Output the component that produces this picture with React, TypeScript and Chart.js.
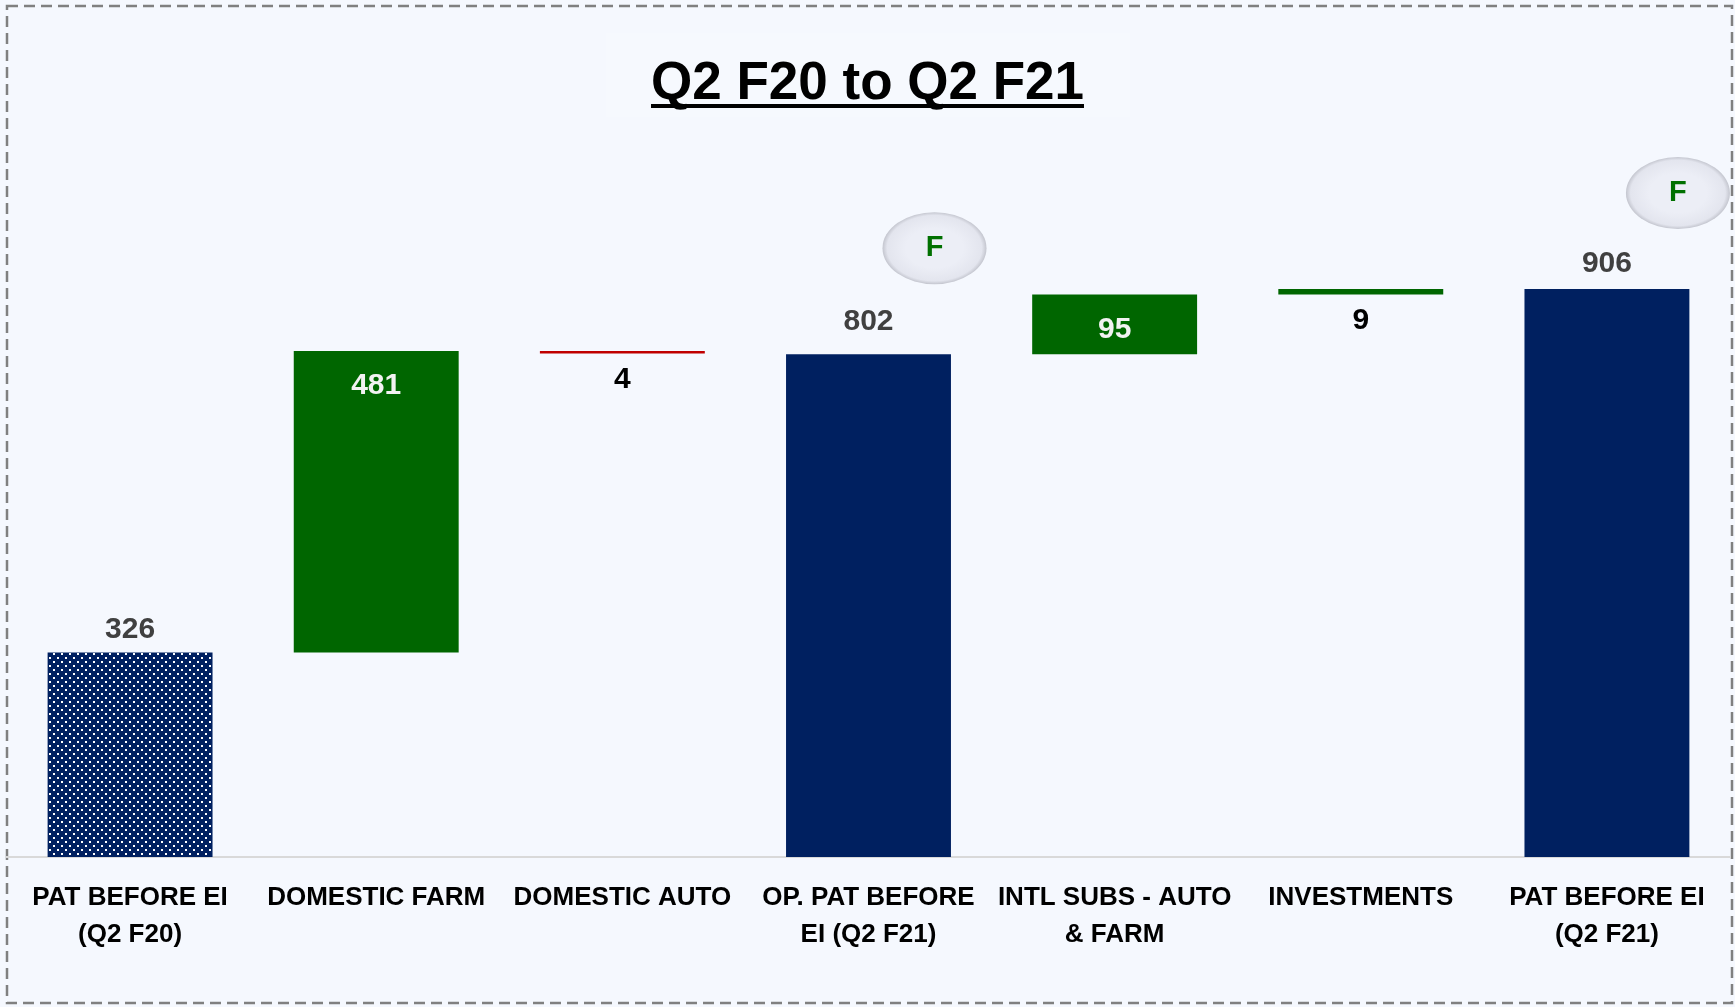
import React, { useEffect, useRef } from "react";
import { Chart, registerables } from "chart.js";

Chart.register(...registerables);

const chartTitle = "Q2 F20 to Q2 F21";
const categories: string[][] = [
  ["PAT BEFORE EI", "(Q2 F20)"],
  ["DOMESTIC FARM"],
  ["DOMESTIC AUTO"],
  ["OP. PAT BEFORE", "EI (Q2 F21)"],
  ["INTL SUBS - AUTO", "& FARM"],
  ["INVESTMENTS"],
  ["PAT BEFORE EI", "(Q2 F21)"],
];
const barValues = [326, 481, -4, 802, 95, 9, 906];
const barKinds = ["total", "up", "down", "total", "up", "up", "total"];
const flagLabels = ["", "", "", "F", "", "", "F"];
const yMin = 0;
const yMax = 1000;

const NAVY = "#002060";
const GREEN = "#006600";
const RED = "#C00000";
const BG = "#f5f8fe";
const FONT = "'Liberation Sans', Arial, sans-serif";

function buildRanges(): [number, number][] {
  let run = 0;
  return barValues.map((v, i) => {
    if (barKinds[i] === "total") {
      run = v;
      return [0, v] as [number, number];
    }
    const s = run;
    run += v;
    return [s, run] as [number, number];
  });
}

function makeDotPattern(): CanvasPattern | string {
  const c = document.createElement("canvas");
  c.width = 8;
  c.height = 8;
  const g = c.getContext("2d");
  if (!g) return NAVY;
  g.fillStyle = NAVY;
  g.fillRect(0, 0, 8, 8);
  g.fillStyle = "#ffffff";
  g.fillRect(1, 1, 2, 2);
  g.fillRect(5, 5, 2, 2);
  const p = g.createPattern(c, "repeat");
  return p || NAVY;
}

const decorPlugin = {
  id: "decor",
  beforeDraw(chart: any) {
    const { ctx, width, height } = chart;
    ctx.save();
    ctx.fillStyle = BG;
    ctx.fillRect(0, 0, width, height);
    // subtle title box
    ctx.fillStyle = "rgba(255,255,255,0.18)";
    ctx.fillRect(606, 33, 524, 84);
    // dashed border
    ctx.strokeStyle = "#808080";
    ctx.lineWidth = 2.5;
    ctx.setLineDash([11, 6]);
    ctx.strokeRect(7, 6, width - 10, height - 10);
    ctx.restore();
  },
  afterDraw(chart: any) {
    const { ctx, width } = chart;
    ctx.save();
    // title
    ctx.font = `bold 53px ${FONT}`;
    ctx.fillStyle = "#000000";
    ctx.textAlign = "center";
    ctx.textBaseline = "alphabetic";
    const cx = width / 2;
    ctx.fillText(chartTitle, cx, 99);
    const w = ctx.measureText(chartTitle).width;
    ctx.fillRect(cx - w / 2, 104, w, 4);

    // flag ellipses
    const meta = chart.getDatasetMeta(0);
    const offs: Record<number, [number, number]> = { 3: [66, -106], 6: [71, -96] };
    flagLabels.forEach((f, i) => {
      if (!f) return;
      const el = meta.data[i];
      const top = Math.min(el.y, el.base);
      const [dx, dy] = offs[i] || [68, -100];
      const ex = el.x + dx;
      const ey = top + dy;
      const rx = 52;
      const ry = 36;
      ctx.save();
      ctx.translate(ex, ey);
      ctx.scale(1, ry / rx);
      const grad = ctx.createRadialGradient(0, 0, rx * 0.55, 0, 0, rx);
      grad.addColorStop(0, "#eceef6");
      grad.addColorStop(0.8, "#e3e5ee");
      grad.addColorStop(1, "#c4c6cf");
      ctx.beginPath();
      ctx.arc(0, 0, rx, 0, Math.PI * 2);
      ctx.fillStyle = grad;
      ctx.fill();
      ctx.restore();
      ctx.font = `bold 29px ${FONT}`;
      ctx.fillStyle = "#007000";
      ctx.textAlign = "center";
      ctx.textBaseline = "middle";
      ctx.fillText(f, ex, ey);
    });
    ctx.restore();
  },
  afterDatasetsDraw(chart: any) {
    const { ctx } = chart;
    const meta = chart.getDatasetMeta(0);
    const totalGaps: Record<number, number> = { 0: 23, 3: 32, 6: 25 };
    ctx.save();
    ctx.font = `bold 30px ${FONT}`;
    ctx.textAlign = "center";
    ctx.textBaseline = "middle";
    meta.data.forEach((el: any, i: number) => {
      const top = Math.min(el.y, el.base);
      const bottom = Math.max(el.y, el.base);
      const txt = String(Math.abs(barValues[i]));
      let y: number;
      if (barKinds[i] === "total") {
        ctx.fillStyle = "#404040";
        y = top - (totalGaps[i] ?? 25);
      } else if (bottom - top > 40) {
        ctx.fillStyle = "#f2f2f2";
        y = top + 35;
      } else {
        ctx.fillStyle = "#000000";
        y = bottom + 26;
      }
      ctx.fillText(txt, el.x, y);
    });
    ctx.restore();
  },
};

export default function App() {
  const ref = useRef<HTMLCanvasElement | null>(null);

  useEffect(() => {
    if (!ref.current) return;
    const pattern = makeDotPattern();
    const ranges = buildRanges();
    const colors = barKinds.map((k, i) => {
      if (i === 0) return pattern;
      if (k === "total") return NAVY;
      if (k === "up") return GREEN;
      return RED;
    });
    const chart = new Chart(ref.current, {
      type: "bar",
      data: {
        labels: categories as any,
        datasets: [
          {
            data: ranges as any,
            backgroundColor: colors as any,
            borderWidth: 0,
            borderSkipped: false,
            barPercentage: 0.67,
            categoryPercentage: 1,
          },
        ],
      },
      options: {
        animation: false,
        responsive: true,
        maintainAspectRatio: false,
        layout: { padding: { left: 7, right: 5, top: 230, bottom: 0 } },
        plugins: {
          legend: { display: false },
          tooltip: { enabled: false },
          title: { display: false },
        },
        scales: {
          x: {
            grid: { display: false, drawTicks: false },
            border: { display: true, color: "#d9d9d9", width: 2 },
            ticks: {
              autoSkip: false,
              maxRotation: 0,
              minRotation: 0,
              color: "#000000",
              padding: 22,
              font: { family: FONT, size: 26, weight: "bold", lineHeight: 1.42 },
            },
            afterFit: (s: any) => {
              s.height = 150;
            },
          },
          y: {
            display: false,
            min: yMin,
            max: yMax,
          },
        },
      },
      plugins: [decorPlugin],
    });
    return () => chart.destroy();
  }, []);

  return (
    <div style={{ position: "absolute", left: 0, top: 0, width: 1735, height: 1007 }}>
      <canvas ref={ref} />
    </div>
  );
}
